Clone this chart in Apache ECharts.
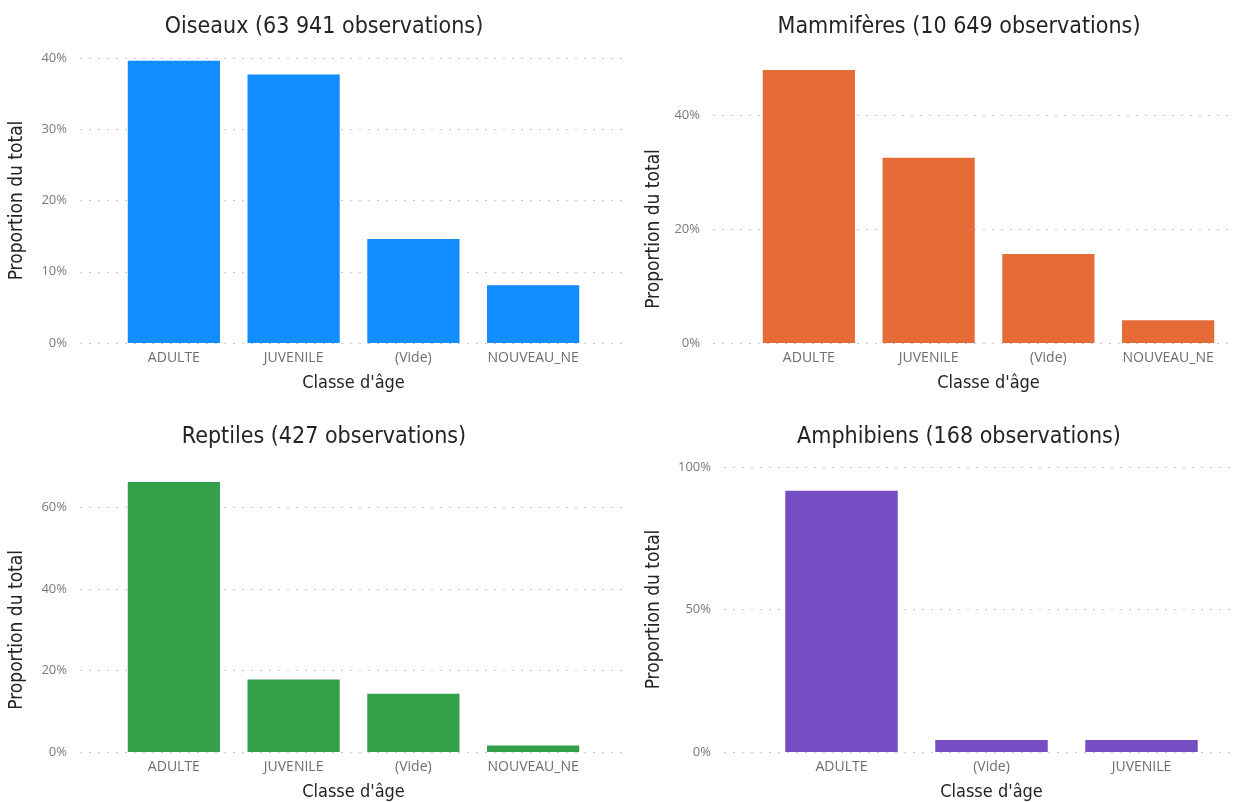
<!DOCTYPE html>
<html>
<head>
<meta charset="utf-8">
<script src="https://cdn.jsdelivr.net/npm/echarts@6/dist/echarts.min.js"></script>
<style>
html,body{margin:0;padding:0;background:#fff;}
#chart{width:1235px;height:802px;}
</style>
</head>
<body>
<div id="chart"></div>
<script>
// ---- Data ----
const oiseauxTitle = 'Oiseaux (63 941 observations)';
const oiseauxCats = ['ADULTE', 'JUVENILE', '(Vide)', 'NOUVEAU_NE'];
const oiseauxVals = [39.6, 37.7, 14.6, 8.1];
const oiseauxTicks = [0, 10, 20, 30, 40];

const mammTitle = 'Mammifères (10 649 observations)';
const mammCats = ['ADULTE', 'JUVENILE', '(Vide)', 'NOUVEAU_NE'];
const mammVals = [47.9, 32.5, 15.6, 4.0];
const mammTicks = [0, 20, 40];

const reptTitle = 'Reptiles (427 observations)';
const reptCats = ['ADULTE', 'JUVENILE', '(Vide)', 'NOUVEAU_NE'];
const reptVals = [66.3, 17.8, 14.3, 1.6];
const reptTicks = [0, 20, 40, 60];

const amphTitle = 'Amphibiens (168 observations)';
const amphCats = ['ADULTE', '(Vide)', 'JUVENILE'];
const amphVals = [91.7, 4.2, 4.2];
const amphTicks = [0, 50, 100];

const yAxisTitle = 'Proportion du total';
const xAxisTitle = "Classe d'âge";

// ---- Layout / style ----
const TITLE_FONT = '"DejaVu Sans Condensed", "DejaVu Sans", sans-serif';
const LABEL_FONT = '"Open Sans", "Noto Sans", sans-serif';

const panels = [
  {title: oiseauxTitle, cats: oiseauxCats, vals: oiseauxVals, ticks: oiseauxTicks, axisMax: 40,
   color: '#118DFF', titleX: 319, titleY: 11, plotTop: 58, plotBottom: 343,
   bgLeft: 80, bgRight: 628, barLeft: 114, barWidth: 479, gap: '23%', yNameGap: 53},
  {title: mammTitle, cats: mammCats, vals: mammVals, ticks: mammTicks, axisMax: 50,
   color: '#E66C37', titleX: 954, titleY: 11, plotTop: 58, plotBottom: 343,
   bgLeft: 713, bgRight: 1235, barLeft: 749, barWidth: 479, gap: '23%', yNameGap: 49},
  {title: reptTitle, cats: reptCats, vals: reptVals, ticks: reptTicks, axisMax: 70,
   color: '#35A04A', titleX: 319, titleY: 421, plotTop: 467, plotBottom: 752,
   bgLeft: 80, bgRight: 628, barLeft: 114, barWidth: 479, gap: '23%', yNameGap: 53},
  {title: amphTitle, cats: amphCats, vals: amphVals, ticks: amphTicks, axisMax: 100,
   color: '#744EC2', titleX: 954, titleY: 421, plotTop: 467, plotBottom: 752,
   bgLeft: 724, bgRight: 1235, barLeft: 766.5, barWidth: 450, gap: '25%', yNameGap: 60}
];

const option = {
  animation: false,
  backgroundColor: '#fff',
  title: [], grid: [], xAxis: [], yAxis: [], series: []
};

panels.forEach((p) => {
  const plotH = p.plotBottom - p.plotTop;
  const tickMax = p.ticks[p.ticks.length - 1];
  const interval = p.ticks[1] - p.ticks[0];
  const bgTop = p.plotTop + plotH * (1 - tickMax / p.axisMax);

  option.title.push({
    text: p.title, left: p.titleX, top: p.titleY, textAlign: 'center',
    textStyle: {fontFamily: TITLE_FONT, fontSize: 23, fontWeight: 'normal', color: '#252423'}
  });

  // background grid: tick labels + dotted gridlines
  const gBg = option.grid.length;
  option.grid.push({left: p.bgLeft, top: bgTop, width: p.bgRight - p.bgLeft, height: p.plotBottom - bgTop, containLabel: false});
  option.xAxis.push({type: 'value', gridIndex: gBg, min: 0, max: 1, show: false});
  option.yAxis.push({
    type: 'value', gridIndex: gBg, min: p.ticks[0], max: tickMax, interval: interval,
    name: yAxisTitle, nameLocation: 'middle', nameGap: p.yNameGap,
    nameTextStyle: {fontFamily: TITLE_FONT, fontSize: 19, color: '#252423'},
    axisLine: {show: false}, axisTick: {show: false},
    axisLabel: {formatter: '{value}%', margin: 13, fontFamily: LABEL_FONT, fontSize: 13, color: '#7a7a7a'},
    splitLine: {show: true, lineStyle: {type: [2, 7], color: '#c8c8c8', width: 1}}
  });

  // bar grid
  const gBar = option.grid.length;
  option.grid.push({left: p.barLeft, top: p.plotTop, width: p.barWidth, height: plotH, containLabel: false});
  option.xAxis.push({
    type: 'category', gridIndex: gBar, data: p.cats,
    name: xAxisTitle, nameLocation: 'middle', nameGap: 31,
    nameTextStyle: {fontFamily: TITLE_FONT, fontSize: 18, color: '#252423'},
    axisLine: {show: false}, axisTick: {show: false},
    axisLabel: {margin: 8, fontFamily: LABEL_FONT, fontSize: 14, color: '#6e6e6e', interval: 0}
  });
  option.yAxis.push({type: 'value', gridIndex: gBar, min: 0, max: p.axisMax, show: false, splitLine: {show: false}});
  option.series.push({
    type: 'bar', xAxisIndex: gBar, yAxisIndex: gBar, data: p.vals,
    barCategoryGap: p.gap, itemStyle: {color: p.color}
  });
});

const chart = echarts.init(document.getElementById('chart'), null, {renderer: 'canvas'});
chart.setOption(option);
</script>
</body>
</html>
